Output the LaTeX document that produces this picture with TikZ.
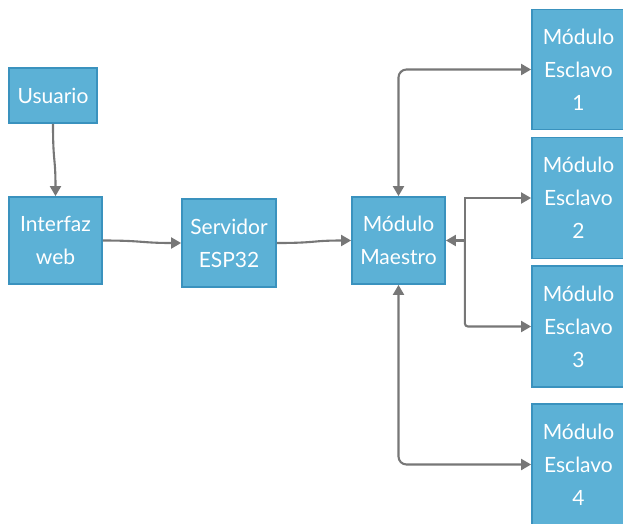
\documentclass[tikz,border=0pt]{standalone}
\usepackage{fontspec}
\setmainfont{Lato}
\usetikzlibrary{arrows.meta}
\definecolor{boxfill}{HTML}{5CB1D6}
\definecolor{boxline}{HTML}{3A92BE}
\definecolor{conn}{HTML}{777777}
\tikzset{
  blk/.style={draw=boxline, fill=boxfill, line width=1.8pt, text=white, align=center,
    inner sep=0pt, font=\fontsize{21}{33}\selectfont},
  link/.style={draw=conn, line width=2.1pt, -{Triangle[length=10pt,width=11pt]}},
  blink/.style={draw=conn, line width=2.1pt, {Triangle[length=10pt,width=11pt]}-{Triangle[length=10pt,width=11pt]}}
}
\begin{document}
\begin{tikzpicture}[x=1pt,y=-1pt]
\useasboundingbox (0,0) rectangle (623,523);
\clip (0,0) rectangle (623,523);
\node[blk, minimum width=88pt, minimum height=55pt] (U) at (53,95.5) {Usuario};
\node[blk, minimum width=93pt, minimum height=87pt] (I) at (55.5,240.5) {Interfaz\\web};
\node[blk, minimum width=94pt, minimum height=88pt] (S) at (229,243) {Servidor\\ESP32};
\node[blk, minimum width=93pt, minimum height=87pt] (M) at (398.5,240.5) {Módulo\\Maestro};
\node[blk, minimum width=93pt, minimum height=120pt] (E1) at (578.5,69.5) {Módulo\\Esclavo\\1};
\node[blk, minimum width=93pt, minimum height=121pt] (E2) at (578.5,198) {Módulo\\Esclavo\\2};
\node[blk, minimum width=93pt, minimum height=121pt] (E3) at (578.5,326.5) {Módulo\\Esclavo\\3};
\node[blk, minimum width=93pt, minimum height=121pt] (E4) at (578.5,464.5) {Módulo\\Esclavo\\4};

\draw[link] (U.south) .. controls ++(0,40) and ++(0,-40) .. (I.north);
\draw[link] (I.east) .. controls ++(40,0) and ++(-40,0) .. (S.west);
\draw[link] (S.east) .. controls ++(40,0) and ++(-40,0) .. (M.west);
\draw[blink, rounded corners=8pt] (M.north) |- (E1.west);
\coordinate (j) at ([xshift=19pt]M.east);
\draw[link] (j) -- (M.east);
\draw[link] (j) |- (E2.west);
\draw[link, rounded corners=3pt] (j) |- (E3.west);
\draw[blink, rounded corners=8pt] (M.south) |- (E4.west);
\end{tikzpicture}
\end{document}
